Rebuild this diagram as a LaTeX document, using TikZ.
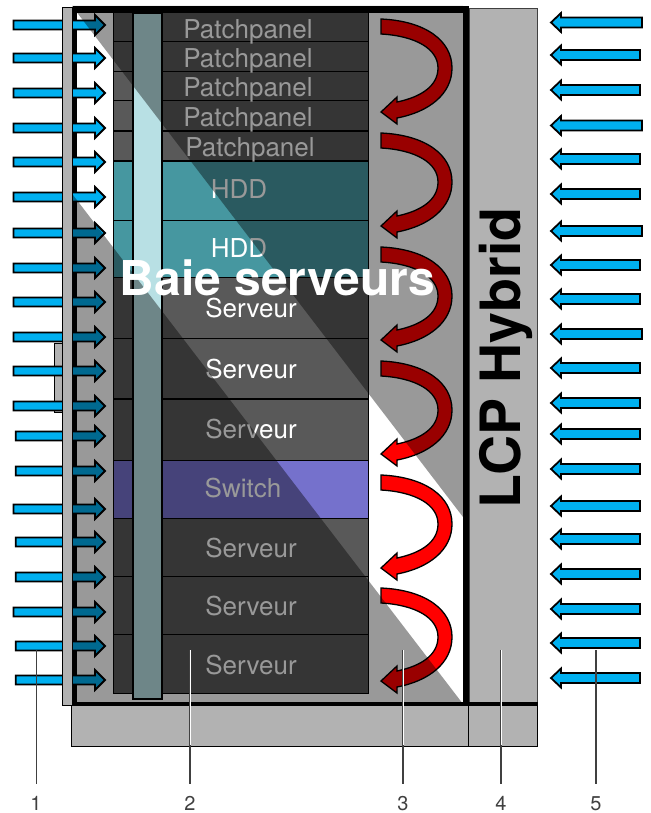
\documentclass[tikz,border=0pt]{standalone}
\usepackage{fontspec}
\setmainfont{TeX Gyre Heros}
\usepackage{xcolor}
\definecolor{panelgrey}{HTML}{B2B2B2}
\definecolor{rowgrey}{HTML}{595959}
\definecolor{hddteal}{HTML}{4697A0}
\definecolor{switchblue}{HTML}{7571CC}
\definecolor{barcyan}{HTML}{B8E0E4}
\definecolor{airblue}{HTML}{00B0F0}
\definecolor{numgrey}{HTML}{404040}
\tikzset{
  panel/.style    = {draw=black, fill=panelgrey, line width=1pt},
  rowbox/.style   = {draw=black, line width=1pt},
  rowtext/.style  = {anchor=base, inner sep=0pt, text=white, font=\fontsize{26}{28}\selectfont},
  airflow/.style  = {draw=black, fill=airblue, line width=1.8pt, line join=miter},
  hotflow/.style  = {draw=black, fill=red, line width=1.3pt, line join=miter},
  shade/.style    = {fill=black, fill opacity=0.4},
  numtext/.style  = {inner sep=0pt, text=numgrey, font=\fontsize{20}{22}\selectfont},
  leader/.style   = {draw=numgrey, line width=1.2pt, shorten <=12pt},
  leaderin/.style = {draw=white, line width=0.8pt},
}
\begin{document}
\begin{tikzpicture}[x=1pt, y=-1pt]
  \useasboundingbox (0,0) rectangle (650,813);
  % LCP and plinth
  \draw[panel, draw=numgrey] (469,9) rectangle (537,705);
  \draw[panel] (71,705) rectangle (468,746);
  \draw[panel] (468,705) rectangle (537,746);
  % rack frame
  \fill[black] (73,6) rectangle (469,705.5);
  \fill[black] (469,702) rectangle (537.5,705.5);
  \fill[white] (77,13) rectangle (463,702);
  % rows
  \foreach \ytop/\ybot/\rowcol in {13/42/rowgrey, 42/72/rowgrey, 72/101/rowgrey, 101/131/rowgrey, 132/161/rowgrey,
      162/220/hddteal, 220/277/hddteal, 277/338/rowgrey, 338/398/rowgrey, 399/460/rowgrey,
      460/518/switchblue, 518/576/rowgrey, 576/634/rowgrey, 634/693/rowgrey}
    \draw[rowbox, fill=\rowcol] (113,\ytop) rectangle (368,\ybot);
  \foreach \i/\xt/\yt/\txt in {1/248/39/Patchpanel, 2/248/68/Patchpanel, 3/248/97/Patchpanel, 4/248/127/Patchpanel,
      5/250/157/Patchpanel, 6/239/198/HDD, 7/239/257/HDD, 8/251/317/Serveur, 9/251/378/Serveur, 10/251/438/Serveur,
      11/243/497/Switch, 12/251/557/Serveur, 13/251/615/Serveur, 14/251/674/Serveur}
    \node[rowtext] (row\i) at (\xt,\yt) {\txt};
  % vertical bar
  \draw[rowbox, fill=barcyan, line width=1.2pt] (133,13) rectangle (162,699);
  % hot air
  \foreach \yh in {19,133,247,361,475,588}
    \draw[hotflow, shift={(381,\yh)}] (0,0) .. controls (45,2) and (71,22) .. (71,49)
      .. controls (71,75) and (48,93) .. (16,99) -- (16,105) -- (0,93) -- (16,78) -- (16,83)
      .. controls (40,78) and (57,67) .. (57,49) .. controls (57,30) and (35,17) .. (0,15) -- cycle;
  % door handle
  \draw[panel] (54,343) rectangle (62,412);
  % cold air, left
  \foreach \ya/\xa in {25/13.5, 58/13.5, 93/13.5, 128/13.5, 162/13.5, 197/13.5, 233/13.5, 268/13.5,
      302/13.5, 337/13.5, 371/13.5, 406/13.5, 436/15.7, 471/15.7, 509/13.5, 542/15.7,
      577/15.7, 612/13.5, 646/15.7, 680/15.7}
    \draw[airflow] (\xa,\ya-4.5) -- (95,\ya-4.5) -- (95,\ya-10) -- (105,\ya) -- (95,\ya+10) -- (95,\ya+4.5) -- (\xa,\ya+4.5) -- cycle;
  % shaded parts
  \fill[shade] (72,6) -- (463,6) -- (463,517) -- cycle;
  \fill[shade] (73,195) -- (463,704) -- (73,704) -- cycle;
  % side panel
  \draw[panel] (62,8) rectangle (72,705);
  % cold air, right
  \foreach \ya/\xa in {22.5/642, 55/640, 90/640, 125.5/642, 159/640, 194/640, 231/642, 265/640,
      299/640, 334/642, 368/640, 403/640, 434/640, 469/640, 506/640, 539/640,
      574/640, 609/640, 643/640, 678/640}
    \draw[airflow] (\xa,\ya-5) -- (561,\ya-5) -- (561,\ya-9.5) -- (551,\ya) -- (561,\ya+9.5) -- (561,\ya+5) -- (\xa,\ya+5) -- cycle;
  % titles
  \node[anchor=base, inner sep=0pt, text=white, font=\fontsize{48}{52}\selectfont\bfseries] (baie) at (277.5,295) {Baie serveurs};
  \node[anchor=base, inner sep=0pt, rotate=90, font=\fontsize{55.5}{58}\selectfont\bfseries] (lcp) at (520,358) {LCP Hybrid};
  % numbered leaders
  \foreach \n/\xn/\xl in {1/36/36.5, 2/190/190, 3/403/403, 4/501/501, 5/596/596} {
    \node[numtext, anchor=base] (num\n) at (\xn,810) {\n};
    \coordinate (top\n) at (\xl,650);
    \draw[leader] (num\n.north -| top\n) -- (top\n);
  }
  \foreach \n in {2,3,4}
    \draw[leaderin] (top\n) -- (top\n |- 0,745);
\end{tikzpicture}
\end{document}
